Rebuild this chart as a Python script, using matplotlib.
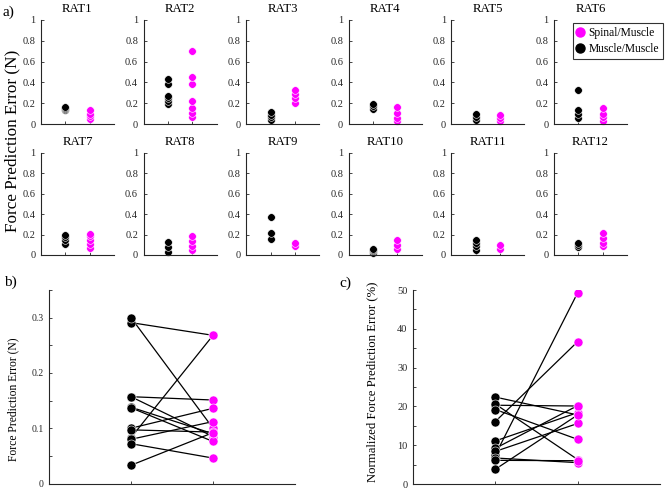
import matplotlib
matplotlib.use("Agg")
import matplotlib.pyplot as plt
from matplotlib.ticker import MultipleLocator, FuncFormatter
from matplotlib.lines import Line2D

plt.rcParams['font.family'] = ['Liberation Serif', 'DejaVu Serif']

SPINAL = '#ff00ff'
MUSCLE = 'black'
GREY = '#262626'

# per-rat errors (N): muscle/muscle (black) and spinal/muscle (magenta)
rats = ['RAT1', 'RAT2', 'RAT3', 'RAT4', 'RAT5', 'RAT6',
        'RAT7', 'RAT8', 'RAT9', 'RAT10', 'RAT11', 'RAT12']
muscle_err = [
    [0.13, 0.14, 0.15, 0.16],
    [0.19, 0.22, 0.25, 0.27, 0.38, 0.43],
    [0.04, 0.07, 0.09, 0.12],
    [0.14, 0.17, 0.19],
    [0.04, 0.07, 0.10],
    [0.06, 0.10, 0.13, 0.33],
    [0.11, 0.15, 0.18, 0.20],
    [0.03, 0.08, 0.13],
    [0.16, 0.22, 0.37],
    [0.02, 0.04, 0.05, 0.06],
    [0.05, 0.09, 0.12, 0.15],
    [0.08, 0.10, 0.12],
]
spinal_err = [
    [0.05, 0.08, 0.10, 0.13],
    [0.07, 0.11, 0.15, 0.22, 0.38, 0.45, 0.70],
    [0.20, 0.25, 0.29, 0.33],
    [0.03, 0.06, 0.11, 0.16],
    [0.03, 0.06, 0.09],
    [0.03, 0.07, 0.10, 0.15],
    [0.07, 0.11, 0.15, 0.19, 0.21],
    [0.05, 0.09, 0.14, 0.19],
    [0.09, 0.12],
    [0.06, 0.10, 0.15],
    [0.06, 0.10],
    [0.09, 0.12, 0.17, 0.22],
]

# paired summary per rat, panel b (N)
b_muscle = [0.291, 0.300, 0.083, 0.157, 0.157, 0.138, 0.137, 0.100, 0.097, 0.080, 0.072, 0.033]
b_spinal = [0.268, 0.100, 0.268, 0.151, 0.085, 0.090, 0.076, 0.136, 0.093, 0.112, 0.046, 0.092]

# paired summary per rat, panel c (%)
c_muscle = [7.5, 16.1, 22.4, 20.3, 20.6, 19.2, 11.1, 9.2, 8.4, 6.7, 6.1, 3.8]
c_spinal = [49.3, 36.7, 17.8, 20.1, 6.3, 11.5, 18.4, 20.2, 15.6, 5.5, 6.0, 17.8]

W, H = 668, 488


def px_axes(fig, left, top, width, height):
    """Add axes using pixel coords measured from the top-left corner."""
    return fig.add_axes([left / W, (H - top - height) / H, width / W, height / H])


def style_axes(ax, fs):
    ax.spines['top'].set_visible(False)
    ax.spines['right'].set_visible(False)
    for s in ('left', 'bottom'):
        ax.spines[s].set_color(GREY)
        ax.spines[s].set_linewidth(0.8)
    ax.tick_params(direction='in', length=2.5, width=0.6, colors=GREY,
                   labelsize=fs, pad=4)
    ax.tick_params(which='minor', direction='in', length=2.5, width=0.6, colors=GREY)
    ax.set_xlim(0, 3)
    ax.set_xticks([1, 2])
    ax.set_xticklabels([])


def plot_rat_panels(fig):
    """Small per-rat dot plots (panel a)."""
    for i, name in enumerate(rats):
        row, col = divmod(i, 6)
        top = 20 if row == 0 else 153
        ax = px_axes(fig, 41 + 102.6 * col, top, 73, 104 if row == 0 else 102)
        style_axes(ax, 7.5)
        ax.plot([1] * len(muscle_err[i]), muscle_err[i], 'o', color=MUSCLE,
                ms=5.5, mec='white', mew=0.4, clip_on=False)
        ax.plot([2] * len(spinal_err[i]), spinal_err[i], 'o', color=SPINAL,
                ms=5.5, mec='white', mew=0.4, clip_on=False)
        ax.set_ylim(0, 1)
        ax.set_yticks([0, 0.2, 0.4, 0.6, 0.8, 1])
        ax.set_yticklabels(['0', '0.2', '0.4', '0.6', '0.8', '1'])
        ax.set_title(name, fontsize=9.2, color='black', pad=5.5)
        if i == 5:
            handles = [
                Line2D([], [], marker='o', ls='', color=SPINAL, ms=6.5, label='Spinal/Muscle'),
                Line2D([], [], marker='o', ls='', color=MUSCLE, ms=6.5, label='Muscle/Muscle'),
            ]
            leg = ax.legend(handles=handles, loc='upper left', bbox_to_anchor=(0.26, 0.97),
                            fontsize=8.3, frameon=True, fancybox=False, handlelength=0.6,
                            handletextpad=0.4, borderpad=0.35, labelspacing=0.35,
                            borderaxespad=0)
            leg.get_frame().set_edgecolor('black')
            leg.get_frame().set_linewidth(0.8)


def plot_paired(ax, left_vals, right_vals):
    for a, b in zip(left_vals, right_vals):
        ax.plot([1, 2], [a, b], color='black', lw=0.9, zorder=1)
    ax.plot([1] * len(left_vals), left_vals, 'o', color=MUSCLE, ms=6.5,
            mec='white', mew=0.4, zorder=2)
    ax.plot([2] * len(right_vals), right_vals, 'o', color=SPINAL, ms=6.5,
            mec='white', mew=0.4, zorder=2)


fig = plt.figure(figsize=(6.68, 4.88), dpi=100)

plot_rat_panels(fig)
fig.text(12 / W, 1 - 141 / H, 'Force Prediction Error (N)', rotation=90,
         ha='center', va='center', fontsize=12.3)

# panel b
ax_b = px_axes(fig, 49, 290, 246, 193.5)
style_axes(ax_b, 7)
plot_paired(ax_b, b_muscle, b_spinal)
ax_b.set_ylim(0, 0.35)
ax_b.yaxis.set_major_locator(MultipleLocator(0.1))
ax_b.yaxis.set_minor_locator(MultipleLocator(0.05))
ax_b.yaxis.set_major_formatter(FuncFormatter(lambda v, p: '0' if v == 0 else f'{v:.1f}'))
ax_b.set_ylabel('Force Prediction Error (N)', fontsize=8.4)
ax_b.yaxis.set_label_coords(-0.122, 0.437)

# panel c
ax_c = px_axes(fig, 413, 290, 247, 194)
style_axes(ax_c, 7.5)
plot_paired(ax_c, c_muscle, c_spinal)
ax_c.set_ylim(0, 50)
ax_c.yaxis.set_major_locator(MultipleLocator(10))
ax_c.yaxis.set_minor_locator(MultipleLocator(5))
ax_c.set_ylabel('Normalized Force Prediction Error (%)', fontsize=9.2)
ax_c.yaxis.set_label_coords(-0.142, 0.526)

fig.text(8 / W, 1 - 12 / H, 'a)', ha='center', va='center', fontsize=11)
fig.text(10 / W, 1 - 282 / H, 'b)', ha='center', va='center', fontsize=11)
fig.text(345 / W, 1 - 283 / H, 'c)', ha='center', va='center', fontsize=11)

fig.savefig('out.png', dpi=100)
